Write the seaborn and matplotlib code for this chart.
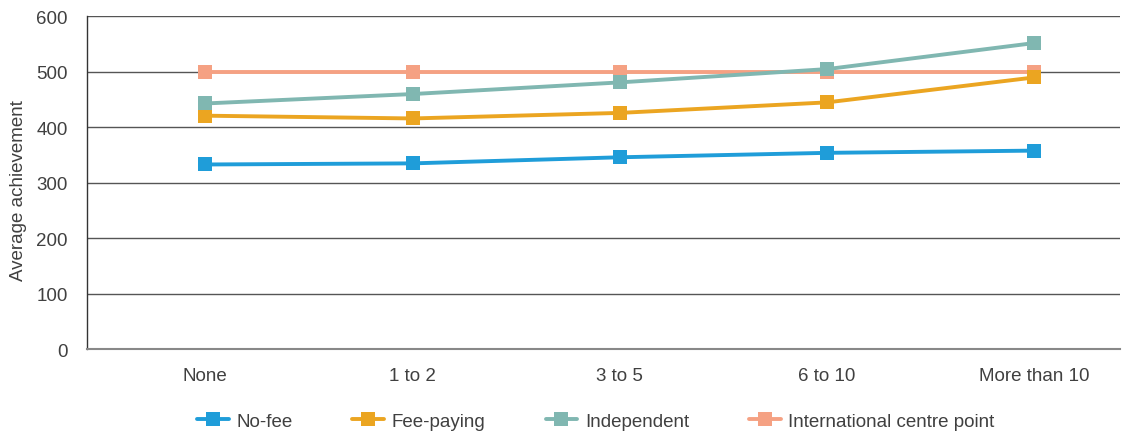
import matplotlib
matplotlib.use("Agg")
import matplotlib.pyplot as plt
import seaborn as sns
import pandas as pd
from matplotlib.lines import Line2D

categories = ["None", "1 to 2", "3 to 5", "6 to 10", "More than 10"]
no_fee = [333, 335, 346, 354, 358]
fee_paying = [421, 416, 426, 445, 490]
independent = [443, 460, 481, 505, 552]
international = [500, 500, 500, 500, 500]
series_names = ["No-fee", "Fee-paying", "Independent", "International centre point"]
y_ticks = [0, 100, 200, 300, 400, 500, 600]

colors = ["#1F9DD9", "#EBA521", "#80B7B1", "#F5A183"]

rows = []
for name, vals in zip(series_names, [no_fee, fee_paying, independent, international]):
    for i, (c, v) in enumerate(zip(categories, vals)):
        rows.append({"cat": c, "x": i, "value": v, "series": name})
df = pd.DataFrame(rows)

sns.set_theme(style="white")
plt.rcParams['font.family'] = ['Liberation Sans', 'DejaVu Sans']

fig = plt.figure(figsize=(11.24, 4.35), dpi=100)
ax = fig.add_axes([0.0774, 0.195, 0.9186, 0.765])

sns.lineplot(data=df, x="x", y="value", hue="series", hue_order=series_names,
             palette=colors, marker="s", markersize=10, markeredgewidth=0,
             linewidth=2.8, dashes=False, ax=ax, legend=False)

zorders = [5, 4, 6, 3]
for line, z in zip(ax.get_lines(), zorders):
    line.set_zorder(z)

ax.set_ylim(0, 600)
ax.set_yticks(y_ticks)
ax.set_xlim(-0.57, 4.41)
ax.set_xticks(range(len(categories)))
ax.set_xticklabels(categories)
ax.yaxis.grid(True, color="#555555", linewidth=1.0)
ax.xaxis.grid(False)
for s in ["top", "right"]:
    ax.spines[s].set_visible(False)
ax.spines["left"].set_color("#333333")
ax.spines["left"].set_linewidth(1.0)
ax.spines["bottom"].set_color("#888888")
ax.spines["bottom"].set_linewidth(1.5)
ax.tick_params(axis="y", length=0, pad=14, labelsize=13.5, labelcolor="#404040")
ax.tick_params(axis="x", length=0, pad=13, labelsize=13.5, labelcolor="#404040")
ax.set_xlabel("")
ax.set_ylabel("Average achievement", fontsize=13.5, color="#404040", labelpad=5)
ax.yaxis.set_label_coords(-0.058, 0.48)

handles = [Line2D([0], [0], color=c, lw=2.8, marker="s", markersize=10, markeredgewidth=0)
           for c in colors]
fig.legend(handles, series_names, loc="center", bbox_to_anchor=(0.53, 0.03),
           ncol=4, frameon=False, fontsize=13.5, handlelength=1.7, columnspacing=3.2,
           handletextpad=0.4, labelcolor="#404040")

fig.savefig("out.png", dpi=100)
